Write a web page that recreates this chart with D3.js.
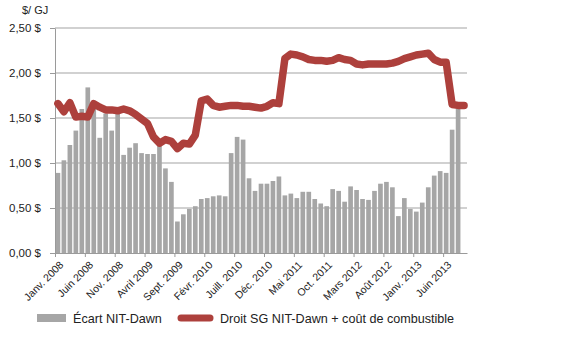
<!DOCTYPE html>
<html>
<head>
<meta charset="utf-8">
<script src="https://cdn.jsdelivr.net/npm/d3@7"></script>
<style>
  body { margin: 0; background: #fff; }
  svg { font-family: "Liberation Sans", Arial, sans-serif; }
  .axis path, .axis line { stroke: #9a9a9a; }
  .axis text { fill: #222; }
</style>
</head>
<body>
<svg id="chart" width="580" height="344"></svg>
<script>
// monthly categories, Janv. 2008 .. Sept. 2013
const monthNames = ['Janv.', 'Févr.', 'Mars', 'Avril', 'Mai', 'Juin', 'Juill.', 'Août', 'Sept.', 'Oct.', 'Nov.', 'Déc.'];
const years = [2008, 2009, 2010, 2011, 2012, 2013];
const nMonths = 69;

// Écart NIT-Dawn ($/GJ), no bar for the last month
const spread = [
  0.89, 1.03, 1.20, 1.36, 1.60, 1.84, 1.62, 1.28, 1.55, 1.36, 1.55, 1.09,
  1.17, 1.22, 1.11, 1.10, 1.10, 1.20, 0.94, 0.79, 0.35, 0.43, 0.49, 0.52,
  0.60, 0.61, 0.63, 0.64, 0.63, 1.11, 1.29, 1.26, 0.83, 0.69, 0.77, 0.77,
  0.80, 0.85, 0.64, 0.66, 0.61, 0.68, 0.68, 0.60, 0.55, 0.52, 0.71, 0.69,
  0.57, 0.74, 0.70, 0.60, 0.59, 0.69, 0.77, 0.79, 0.73, 0.41, 0.61, 0.49,
  0.46, 0.56, 0.73, 0.86, 0.91, 0.89, 1.37, 1.65
];

// Droit SG NIT-Dawn + coût de combustible ($/GJ)
const toll = [
  1.66, 1.57, 1.67, 1.51, 1.52, 1.51, 1.66, 1.62, 1.59, 1.59, 1.58, 1.60,
  1.58, 1.54, 1.49, 1.44, 1.29, 1.22, 1.26, 1.24, 1.16, 1.22, 1.21, 1.31,
  1.69, 1.71, 1.64, 1.62, 1.63, 1.64, 1.64, 1.63, 1.63, 1.62, 1.61, 1.63,
  1.67, 1.66, 2.16, 2.21, 2.20, 2.18, 2.15, 2.14, 2.14, 2.13, 2.14, 2.17,
  2.15, 2.14, 2.10, 2.09, 2.10, 2.10, 2.10, 2.10, 2.11, 2.13, 2.16, 2.18,
  2.20, 2.21, 2.22, 2.15, 2.12, 2.12, 1.65, 1.64, 1.64
];

const yTicks = [0, 0.5, 1, 1.5, 2, 2.5];
const seriesNames = ['Écart NIT-Dawn', 'Droit SG NIT-Dawn + coût de combustible'];

let categories = [];
for (let i = 0; i < nMonths; i++) {
  categories.push(monthNames[i % 12] + ' ' + years[Math.floor(i / 12)]);
}

const svg = d3.select('#chart');
const plotLeft = 55, plotRight = 467, plotTop = 28, plotBottom = 253;

let x = d3.scaleBand().domain(d3.range(nMonths)).range([plotLeft, plotRight]).paddingInner(0.22).paddingOuter(0.1);
let xEdge = d3.scaleLinear().domain([0, nMonths]).range([plotLeft, plotRight]);
let y = d3.scaleLinear().domain([0, 2.5]).range([plotBottom, plotTop]);

// gridlines
svg.append('g')
  .selectAll('line')
  .data(yTicks.slice(1))
  .enter()
  .append('line')
  .attr('x1', plotLeft).attr('x2', plotRight)
  .attr('y1', d => y(d)).attr('y2', d => y(d))
  .attr('stroke', '#a3a3a3')
  .attr('stroke-width', 1);

// bars
svg.append('g')
  .selectAll('rect')
  .data(spread)
  .enter()
  .append('rect')
  .attr('x', (d, i) => x(i))
  .attr('width', x.bandwidth())
  .attr('y', d => y(d))
  .attr('height', d => plotBottom - y(d))
  .attr('fill', '#a6a6a6');

// y axis
let yAxis = d3.axisLeft(y)
  .tickValues(yTicks)
  .tickSize(5)
  .tickSizeOuter(0)
  .tickFormat(d => d3.format('.2f')(d).replace('.', ',') + ' $');
svg.append('g')
  .attr('class', 'axis')
  .attr('transform', 'translate(' + plotLeft + ',0)')
  .call(yAxis)
  .call(g => g.selectAll('text').attr('font-size', 11.5).attr('x', -14));

// x axis, ticks on month boundaries every 5 months
let tickIdx = d3.range(0, nMonths - 1, 5);
let xAxis = d3.axisBottom(xEdge)
  .tickValues(tickIdx)
  .tickSize(4)
  .tickSizeOuter(0)
  .tickFormat(i => categories[i]);
svg.append('g')
  .attr('class', 'axis')
  .attr('transform', 'translate(0,' + plotBottom + ')')
  .call(xAxis)
  .call(g => g.selectAll('text')
    .attr('font-size', 10.5)
    .attr('text-anchor', 'end')
    .attr('dy', '0.35em')
    .attr('y', 0)
    .attr('transform', 'translate(6,10) rotate(-45)'));
svg.selectAll('.axis').attr('font-family', null);

// line
let line = d3.line()
  .x((d, i) => x(i) + x.bandwidth() / 2)
  .y(d => y(d));
svg.append('path')
  .datum(toll)
  .attr('d', line)
  .attr('fill', 'none')
  .attr('stroke', '#ad403c')
  .attr('stroke-width', 7.5)
  .attr('stroke-linejoin', 'round')
  .attr('stroke-linecap', 'round');

// unit label
svg.append('text')
  .attr('x', 22).attr('y', 14)
  .attr('font-size', 11)
  .attr('fill', '#222')
  .text('$/ GJ');

// legend
let legend = svg.append('g').attr('font-size', 12.6).attr('fill', '#222');
legend.append('rect')
  .attr('x', 37).attr('y', 314).attr('width', 29).attr('height', 8)
  .attr('fill', '#a6a6a6');
legend.append('text').attr('x', 73).attr('y', 323).text(seriesNames[0]);
legend.append('line')
  .attr('x1', 181).attr('x2', 210).attr('y1', 318).attr('y2', 318)
  .attr('stroke', '#ad403c').attr('stroke-width', 7).attr('stroke-linecap', 'round');
legend.append('text').attr('x', 220).attr('y', 323).text(seriesNames[1]);
</script>
</body>
</html>
